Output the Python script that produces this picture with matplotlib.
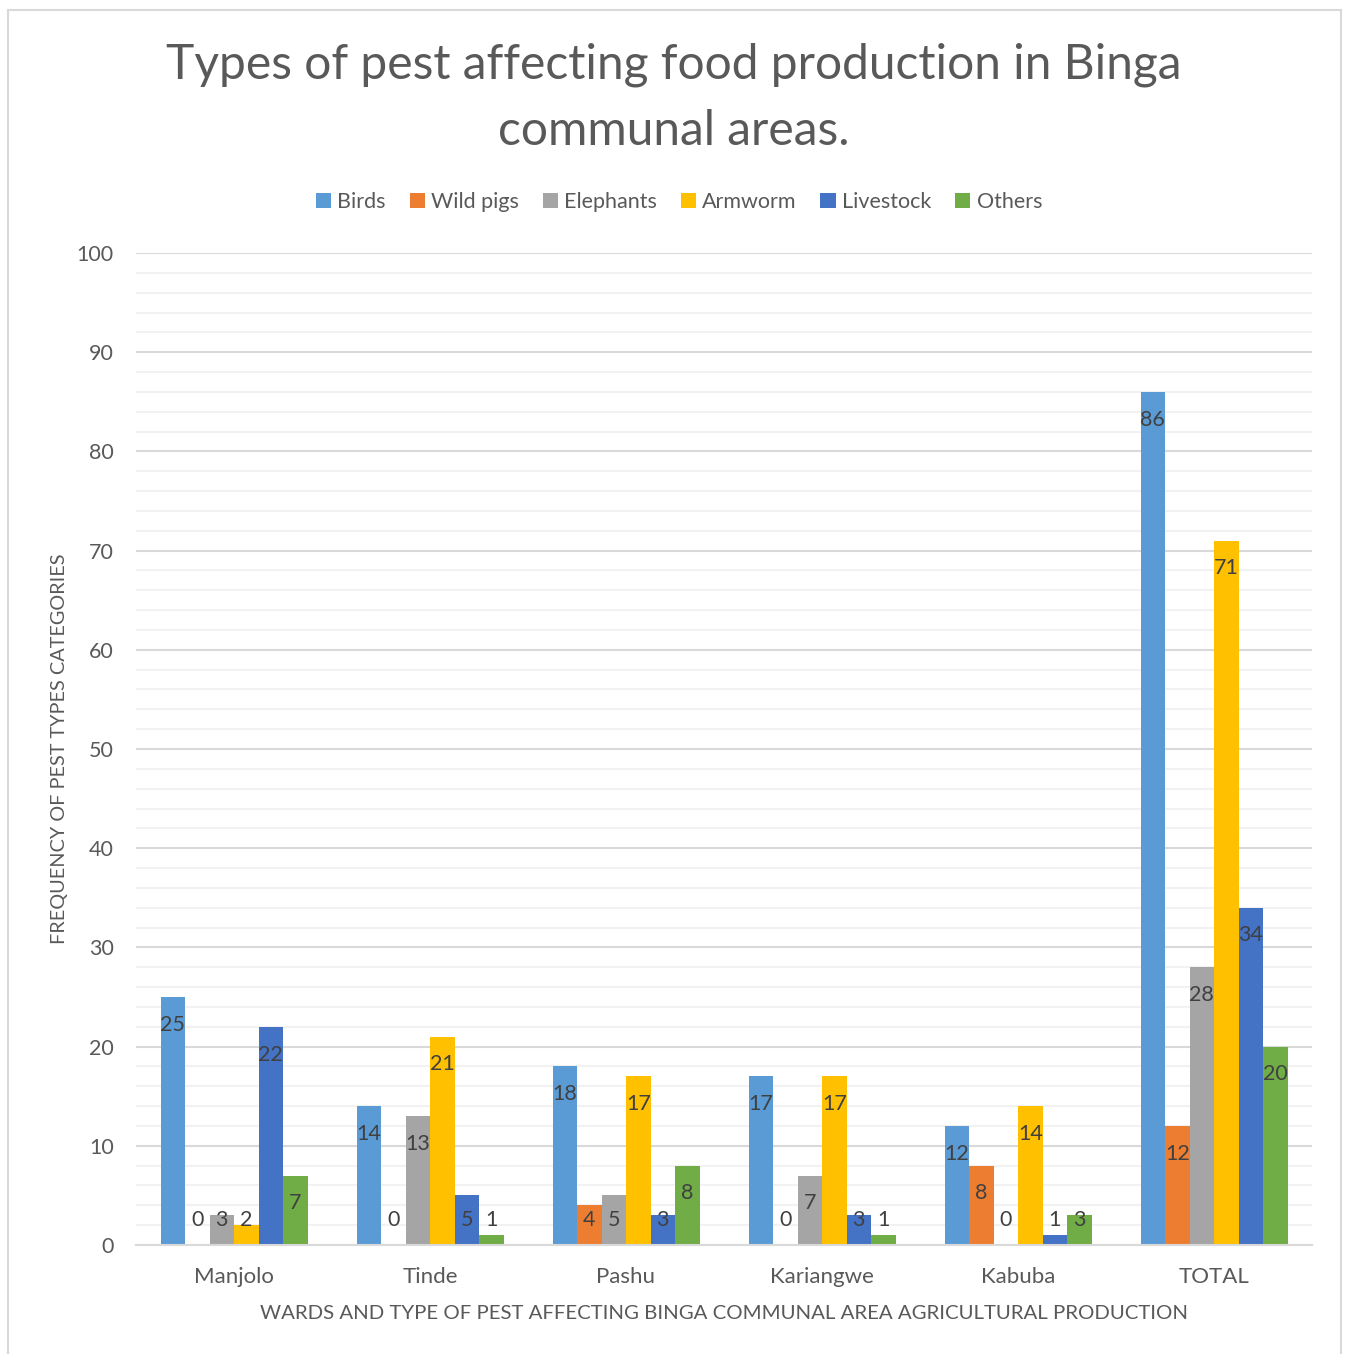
import matplotlib
matplotlib.use("Agg")
import matplotlib.pyplot as plt
import numpy as np
from matplotlib.patches import Rectangle

wards = ["Manjolo", "Tinde", "Pashu", "Kariangwe", "Kabuba", "TOTAL"]
series_names = ["Birds", "Wild pigs", "Elephants", "Armworm", "Livestock", "Others"]
birds = [25, 14, 18, 17, 12, 86]
wild_pigs = [0, 0, 4, 0, 8, 12]
elephants = [3, 13, 5, 7, 0, 28]
armworm = [2, 21, 17, 17, 14, 71]
livestock = [22, 5, 3, 3, 1, 34]
others = [7, 1, 8, 1, 3, 20]
colors = ["#5B9BD5", "#ED7D31", "#A5A5A5", "#FFC000", "#4472C4", "#70AD47"]

series = [birds, wild_pigs, elephants, armworm, livestock, others]

FONT = "Lato"
TXT = "#595959"

fig = plt.figure(figsize=(13.48, 13.54), dpi=100)
fig.patch.set_facecolor("white")

# chart frame
fig.patches.append(Rectangle((8 / 1348, -0.05), (1341 - 8) / 1348, 1.05 - 10 / 1354,
                             transform=fig.transFigure, fill=False,
                             edgecolor="#D9D9D9", linewidth=1.5))

ax = fig.add_axes([136 / 1348, 1 - 1245 / 1354, (1312 - 136) / 1348, (1245 - 253) / 1354])

x = np.arange(len(wards))
bw = 1 / 8
for i, (name, vals, c) in enumerate(zip(series_names, series, colors)):
    pos = x - 2.5 * bw + i * bw
    ax.bar(pos, vals, width=bw, color=c, label=name, zorder=3)
    for px, v in zip(pos, vals):
        ax.text(px, max(v - 2.8, 2.5), str(v), ha="center", va="center",
                fontsize=15.5, color="#404040", family=FONT, zorder=4)

ax.set_xlim(-0.5, len(wards) - 0.5)
ax.set_ylim(0, 100)
ax.set_yticks(np.arange(0, 101, 10))
ax.set_yticks(np.arange(0, 101, 2), minor=True)
ax.grid(axis="y", which="major", color="#D9D9D9", linewidth=1.5, zorder=1)
ax.grid(axis="y", which="minor", color="#F2F2F2", linewidth=1.5, zorder=0)
ax.set_axisbelow(True)
for s in ["top", "right", "left"]:
    ax.spines[s].set_visible(False)
ax.spines["bottom"].set_color("#D9D9D9")
ax.spines["bottom"].set_linewidth(1.5)
ax.spines["bottom"].set_zorder(5)

ax.set_xticks(x)
ax.set_xticklabels(wards)
ax.tick_params(axis="both", which="both", length=0, colors=TXT)
ax.tick_params(axis="x", pad=15.5, labelsize=16)
ax.tick_params(axis="y", pad=16, labelsize=15.5)
for lab in ax.get_xticklabels() + ax.get_yticklabels():
    lab.set_family(FONT)

ax.set_xlabel("WARDS AND TYPE OF PEST AFFECTING BINGA COMMUNAL AREA AGRICULTURAL PRODUCTION",
              fontsize=14.7, color=TXT, family=FONT, labelpad=13)
ax.set_ylabel("FREQUENCY OF PEST TYPES CATEGORIES", fontsize=14.3, color=TXT,
              family=FONT, labelpad=6)

fig.text(0.5, 1 - 98 / 1354,
         "Types of pest affecting food production in Binga\ncommunal areas.",
         ha="center", va="center", fontsize=34.5, color=TXT, family=FONT,
         linespacing=1.6)

leg = fig.legend(loc="center", bbox_to_anchor=(679 / 1348, 1 - 202 / 1354), ncol=6,
                 frameon=False, prop={"family": FONT, "size": 15.5},
                 handlelength=0.7, handleheight=0.7, handletextpad=0.3,
                 columnspacing=1.1)
for t in leg.get_texts():
    t.set_color(TXT)

fig.savefig("out.png", dpi=100, facecolor="white")
